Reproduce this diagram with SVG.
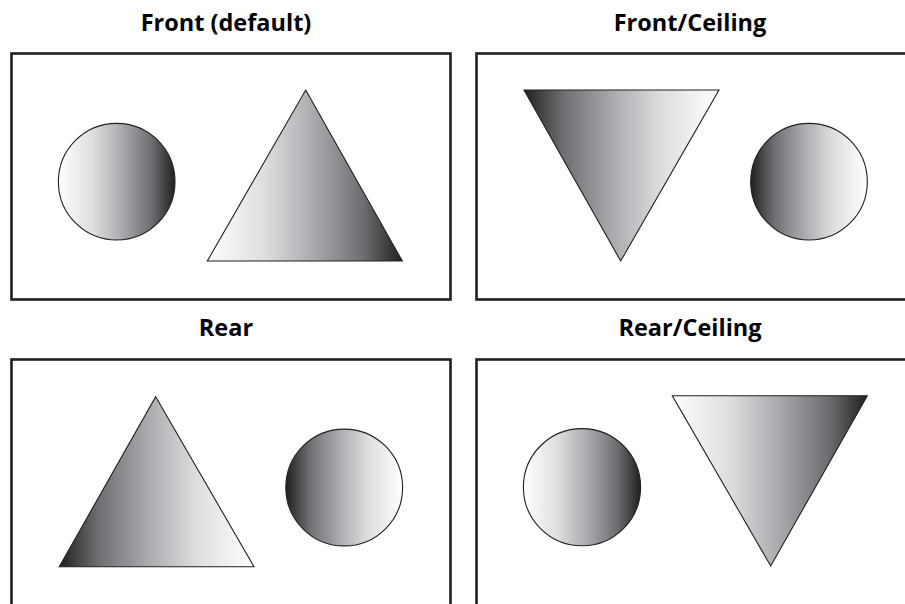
<svg xmlns="http://www.w3.org/2000/svg" width="905" height="604" viewBox="0 0 905 604">
  <defs>
    <linearGradient id="lightToDark" x1="0" y1="0" x2="1" y2="0">
      <stop offset="0" stop-color="#ffffff"/>
      <stop offset="0.3" stop-color="#dcdddf"/>
      <stop offset="0.55" stop-color="#a7a9ac"/>
      <stop offset="0.8" stop-color="#6d6e71"/>
      <stop offset="1" stop-color="#231f20"/>
    </linearGradient>
    <linearGradient id="darkToLight" x1="0" y1="0" x2="1" y2="0">
      <stop offset="0" stop-color="#231f20"/>
      <stop offset="0.2" stop-color="#6d6e71"/>
      <stop offset="0.45" stop-color="#a7a9ac"/>
      <stop offset="0.7" stop-color="#dcdddf"/>
      <stop offset="1" stop-color="#ffffff"/>
    </linearGradient>
  </defs>
  <style>
    .frame { fill: #ffffff; stroke: #231f20; stroke-width: 2.6; }
    .shape { stroke: #231f20; stroke-width: 1.1; stroke-linejoin: miter; }
    .ltd { fill: url(#lightToDark); }
    .dtl { fill: url(#darkToLight); }
    .title { font-family: "Open Sans", "Liberation Sans", sans-serif; font-weight: 700; font-size: 23.5px; fill: #000000; text-anchor: middle; }
  </style>
  <rect width="905" height="604" fill="#ffffff"/>

  <g id="panel-front">
    <text class="title" x="226" y="30.5">Front (default)</text>
    <rect class="frame" x="11.5" y="53.5" width="439" height="246"/>
    <circle class="shape ltd" cx="116.7" cy="181.7" r="58.3"/>
    <polygon class="shape ltd" points="305.7,90 402.3,261 207.3,261"/>
  </g>

  <g id="panel-front-ceiling">
    <text class="title" x="690" y="30.5">Front/Ceiling</text>
    <rect class="frame" x="476.5" y="53.5" width="439" height="246"/>
    <polygon class="shape dtl" points="524,90 719,90 620.7,261"/>
    <circle class="shape dtl" cx="809" cy="181.7" r="58.3"/>
  </g>

  <g id="panel-rear">
    <text class="title" x="226" y="335.5">Rear</text>
    <rect class="frame" x="11.5" y="359.5" width="439" height="246"/>
    <polygon class="shape dtl" points="155.7,396.7 254,566.7 59.3,566.7"/>
    <circle class="shape dtl" cx="344.2" cy="487.5" r="58.4"/>
  </g>

  <g id="panel-rear-ceiling">
    <text class="title" x="690" y="335.5">Rear/Ceiling</text>
    <rect class="frame" x="476.5" y="359.5" width="439" height="246"/>
    <circle class="shape ltd" cx="582" cy="487.2" r="58.6"/>
    <polygon class="shape ltd" points="672.3,395.7 867.3,395.7 770.7,566"/>
  </g>
</svg>
